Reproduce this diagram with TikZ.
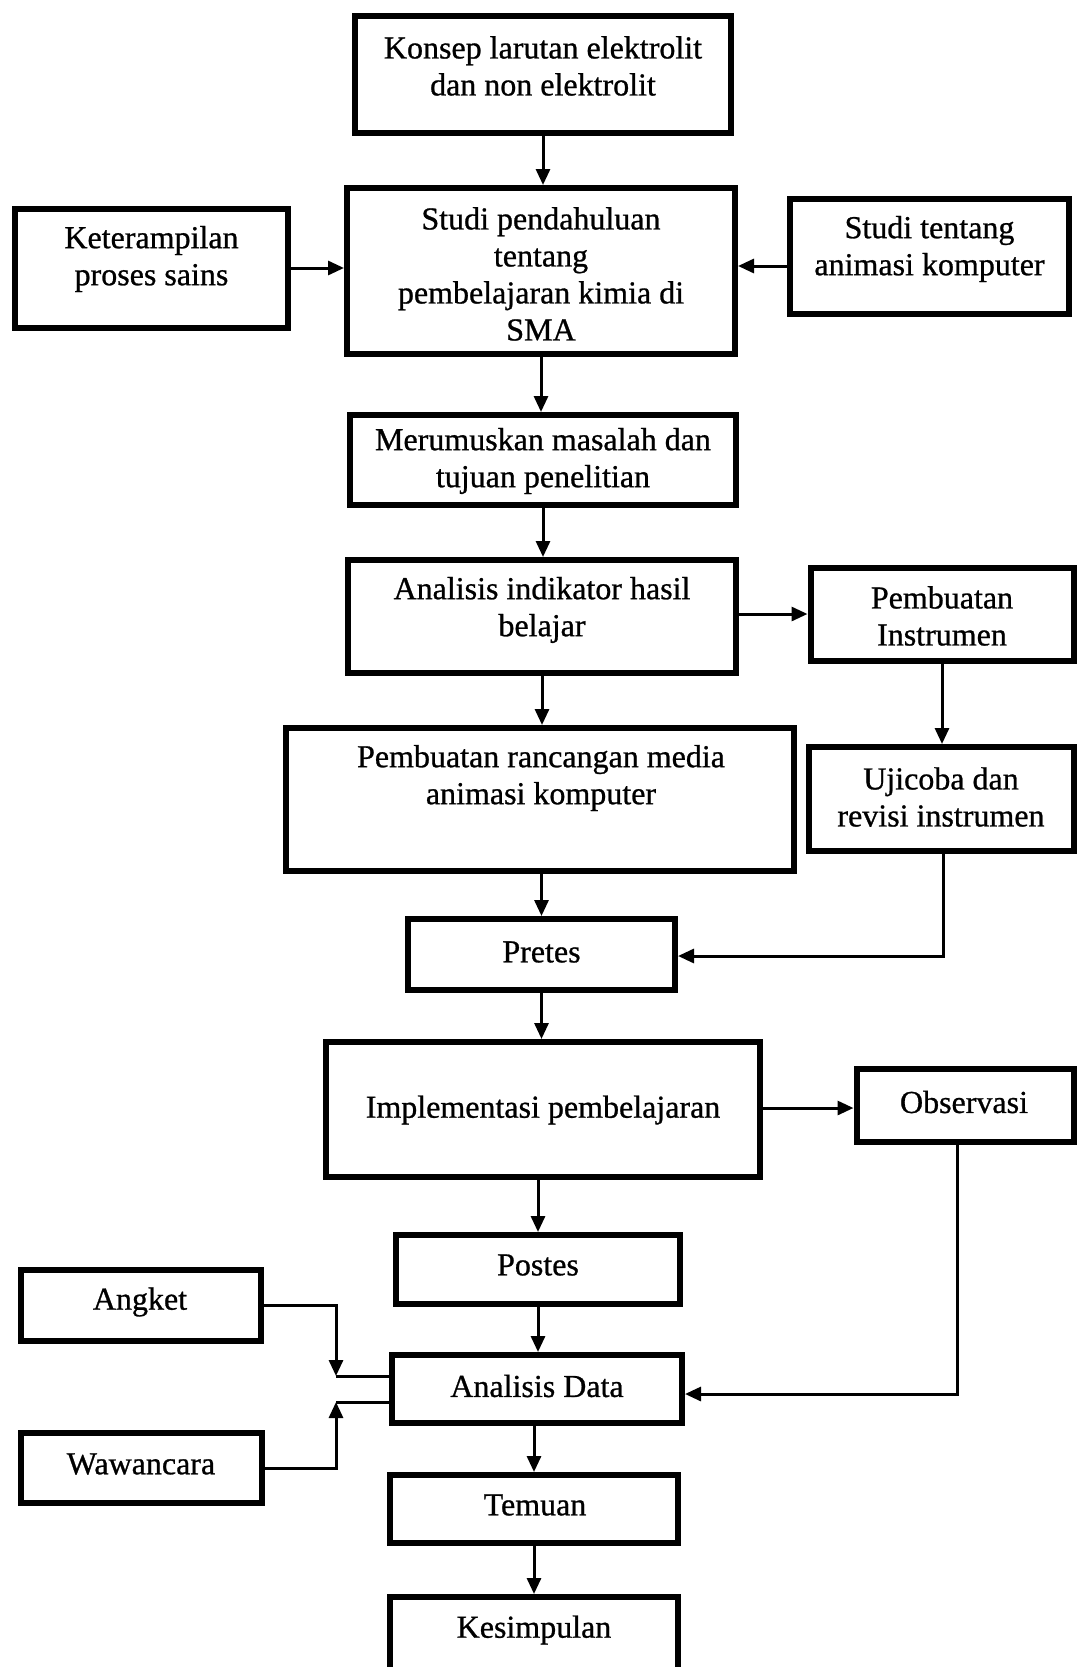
\documentclass[tikz,border=0pt]{standalone}
\usepackage{fontspec}
\setmainfont[FakeBold=0.8]{Liberation Serif}
\usetikzlibrary{arrows.meta}
\tikzset{
  box/.style={draw, line width=6pt, inner sep=0pt},
  lbl/.style={font=\fontsize{32}{37}\selectfont, align=center, inner sep=0pt},
  ln/.style={line width=3pt},
  arr/.style={line width=3pt, -{Triangle[length=16pt,width=14pt]}}
}
\begin{document}
\begin{tikzpicture}[x=1pt,y=-1pt]
\useasboundingbox (0,0) rectangle (1079,1667);
\clip (0,0) rectangle (1079,1667);
% boxes
\node[box, minimum width=376, minimum height=117] (konsep) at (543,74.5) {};
\node[lbl] (konsepT) at (543,66) {Konsep larutan elektrolit\\dan non elektrolit};
\node[box, minimum width=388, minimum height=166] (studi) at (541,271) {};
\node[lbl] (studiT) at (541,274) {Studi pendahuluan\\tentang\\pembelajaran kimia di\\SMA};
\node[box, minimum width=273, minimum height=119] (ket) at (151.5,268.5) {};
\node[lbl] (ketT) at (151.5,259) {Keterampilan\\proses sains};
\node[box, minimum width=279, minimum height=115] (stt) at (929.5,256.5) {};
\node[lbl] (sttT) at (929.5,249) {Studi tentang\\animasi komputer};
\node[box, minimum width=386, minimum height=90] (merumus) at (543,460) {};
\node[lbl] (merumusT) at (543,461) {Merumuskan masalah dan\\tujuan penelitian};
\node[box, minimum width=388, minimum height=113] (analisis) at (542,616.5) {};
\node[lbl] (analisisT) at (542,610) {Analisis indikator hasil\\belajar};
\node[box, minimum width=263, minimum height=93] (pinstr) at (942,614.5) {};
\node[lbl] (pinstrT) at (942,616) {Pembuatan\\Instrumen};
\node[box, minimum width=508, minimum height=143] (rancang) at (540,799.5) {};
\node[lbl] (rancangT) at (541,778) {Pembuatan rancangan media\\animasi komputer};
\node[box, minimum width=265, minimum height=104] (uji) at (941,799) {};
\node[lbl] (ujiT) at (941,797) {Ujicoba dan\\revisi instrumen};
\node[box, minimum width=267, minimum height=71] (pretes) at (541.5,954.5) {};
\node[lbl] (pretesT) at (541.5,952) {Pretes};
\node[box, minimum width=434, minimum height=135] (impl) at (543,1109.5) {};
\node[lbl] (implT) at (543,1110) {Implementasi pembelajaran};
\node[box, minimum width=217, minimum height=73] (obs) at (965,1105.5) {};
\node[lbl] (obsT) at (964,1102) {Observasi};
\node[box, minimum width=284, minimum height=69] (postes) at (538,1269.5) {};
\node[lbl] (postesT) at (538,1265) {Postes};
\node[box, minimum width=240, minimum height=71] (angket) at (141,1305.5) {};
\node[lbl] (angketT) at (140,1302) {Angket};
\node[box, minimum width=290, minimum height=68] (adata) at (537,1389) {};
\node[lbl] (adataT) at (537,1386) {Analisis Data};
\node[box, minimum width=241, minimum height=70] (waw) at (141.5,1468) {};
\node[lbl] (wawT) at (141,1464) {Wawancara};
\node[box, minimum width=288, minimum height=68] (temuan) at (534,1509) {};
\node[lbl] (temuanT) at (535,1505) {Temuan};
\node[box, minimum width=288, minimum height=122] (kesimp) at (534,1658) {};
\node[lbl] (kesimpT) at (534,1630) {Kesimpulan};
% helper coordinates
\coordinate (yk) at (0,268);
\coordinate (ys) at (0,266);
\coordinate (yi) at (0,614);
\coordinate (yo) at (0,1108);
\coordinate (b1) at (943,956);
\coordinate (b2) at (957,1394);
\coordinate (ja) at (336,1376);
\coordinate (jw) at (336,1402);
% connectors
\draw[arr] (konsep.south) -- (konsep.south |- studi.north);
\draw[arr] (ket.east |- yk) -- (studi.west |- yk);
\draw[arr] (stt.west |- ys) -- (studi.east |- ys);
\draw[arr] (studi.south) -- (studi.south |- merumus.north);
\draw[arr] (merumus.south) -- (merumus.south |- analisis.north);
\draw[arr] (analisis.east |- yi) -- (pinstr.west |- yi);
\draw[arr] (pinstr.south) -- (pinstr.south |- uji.north);
\draw[arr] (analisis.south) -- (analisis.south |- rancang.north);
\draw[arr] (uji.south -| b1) |- (pretes.east |- b1);
\draw[arr] (rancang.south -| pretes.north) -- (pretes.north);
\draw[arr] (pretes.south) -- (pretes.south |- impl.north);
\draw[arr] (impl.east |- yo) -- (obs.west |- yo);
\draw[arr] (postes.north |- impl.south) -- (postes.north);
\draw[arr] (obs.south -| b2) |- (adata.east |- b2);
\draw[arr] (postes.south) -- (postes.south |- adata.north);
\draw[arr] (angket.east) -| (ja);
\draw[ln] (ja) -- (adata.west |- ja);
\draw[arr] (waw.east) -| (jw);
\draw[ln] (jw) -- (adata.west |- jw);
\draw[arr] (temuan.north |- adata.south) -- (temuan.north);
\draw[arr] (temuan.south) -- (kesimp.north);
\end{tikzpicture}
\end{document}
